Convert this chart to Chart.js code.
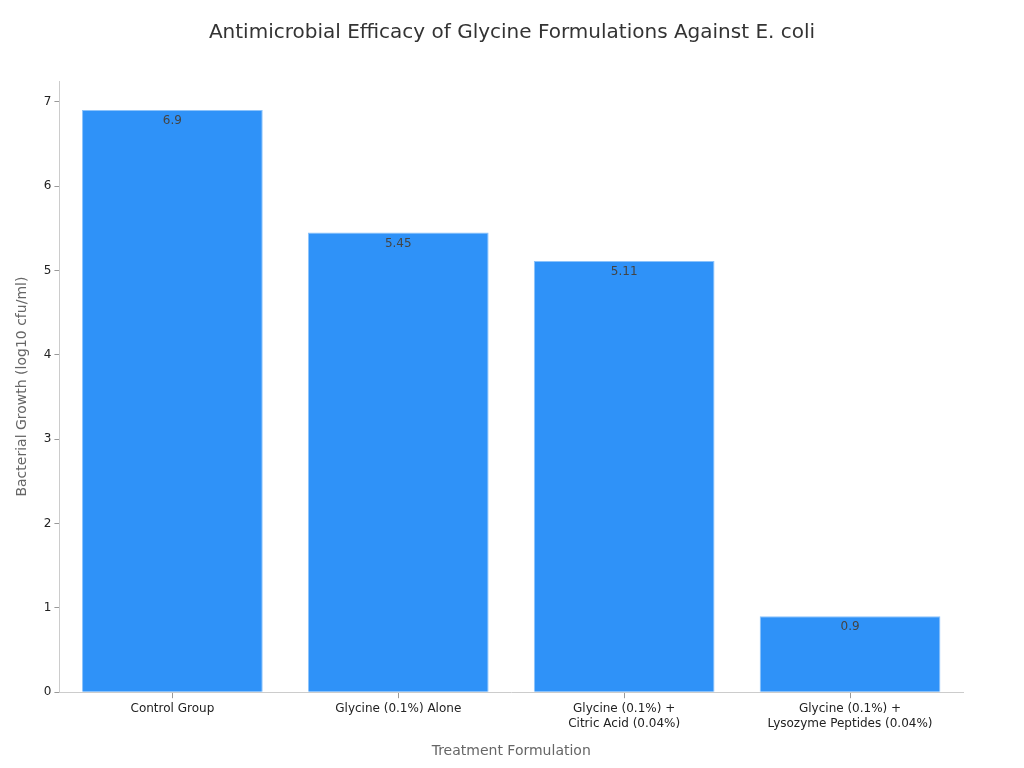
<!DOCTYPE html>
<html>
<head>
<meta charset="utf-8">
<script src="https://cdn.jsdelivr.net/npm/chart.js@4.4.0/dist/chart.umd.min.js"></script>
<style>
html,body{margin:0;padding:0;background:#fff;}
#wrap{width:1024px;height:768px;}
</style>
</head>
<body>
<div id="wrap"><canvas id="c" width="1024" height="768"></canvas></div>
<script>
const chartTitle = 'Antimicrobial Efficacy of Glycine Formulations Against E. coli';
const categories = [
  "Control Group",
  "Glycine (0.1%) Alone",
  ["Glycine (0.1%) +", "Citric Acid (0.04%)"],
  ["Glycine (0.1%) +", "Lysozyme Peptides (0.04%)"]
];
const growthValues = [6.9, 5.45, 5.11, 0.9];
const valueLabels = ["6.9", "5.45", "5.11", "0.9"];
const yTicks = [0, 1, 2, 3, 4, 5, 6, 7];

const FONT = "'DejaVu Sans', sans-serif";

const valueLabelPlugin = {
  id: 'valueLabels',
  afterDatasetsDraw(chart) {
    const ctx = chart.ctx;
    const meta = chart.getDatasetMeta(0);
    ctx.save();
    ctx.font = "12px " + FONT;
    ctx.fillStyle = "#444";
    ctx.textAlign = "center";
    ctx.textBaseline = "middle";
    meta.data.forEach((bar, i) => {
      ctx.fillText(valueLabels[i], bar.x, bar.y + 11);
    });
    ctx.restore();
  }
};

const titlePlugin = {
  id: 'centeredTitle',
  afterDraw(chart) {
    const ctx = chart.ctx;
    ctx.save();
    ctx.font = "20px " + FONT;
    ctx.fillStyle = "#333";
    ctx.textAlign = "center";
    ctx.textBaseline = "middle";
    ctx.fillText(chartTitle, chart.width / 2, 33);
    ctx.restore();
  }
};

new Chart(document.getElementById('c'), {
  type: 'bar',
  data: {
    labels: categories,
    datasets: [{
      data: growthValues,
      backgroundColor: '#2f92f8',
      borderColor: '#8cc3fb',
      borderWidth: 1,
      categoryPercentage: 0.8,
      barPercentage: 1.0
    }]
  },
  options: {
    responsive: false,
    animation: false,
    devicePixelRatio: 1,
    layout: { padding: { left: 10, right: 61, top: 81, bottom: 4 } },
    plugins: {
      legend: { display: false },
      tooltip: { enabled: false },
      title: { display: false }
    },
    scales: {
      x: {
        grid: { display: true, drawOnChartArea: false, drawTicks: true, tickLength: 6, offset: false, color: '#999' },
        border: { display: true, color: '#ccc' },
        ticks: { color: '#222', font: { family: FONT, size: 12, lineHeight: 1.25 }, padding: 3, maxRotation: 0 },
        title: { display: true, text: 'Treatment Formulation', color: '#666', font: { family: FONT, size: 14 }, padding: { top: 9 } }
      },
      y: {
        min: 0,
        max: 7.245,
        afterBuildTicks(axis) { axis.ticks = yTicks.map(v => ({ value: v })); },
        grid: { display: true, drawOnChartArea: false, drawTicks: true, tickLength: 5, color: '#999' },
        border: { display: true, color: '#ccc' },
        ticks: { color: '#222', font: { family: FONT, size: 12 }, padding: 3 },
        title: { display: true, text: 'Bacterial Growth (log10 cfu/ml)', color: '#666', font: { family: FONT, size: 14 }, padding: { bottom: 10 } }
      }
    }
  },
  plugins: [valueLabelPlugin, titlePlugin]
});
</script>
</body>
</html>
